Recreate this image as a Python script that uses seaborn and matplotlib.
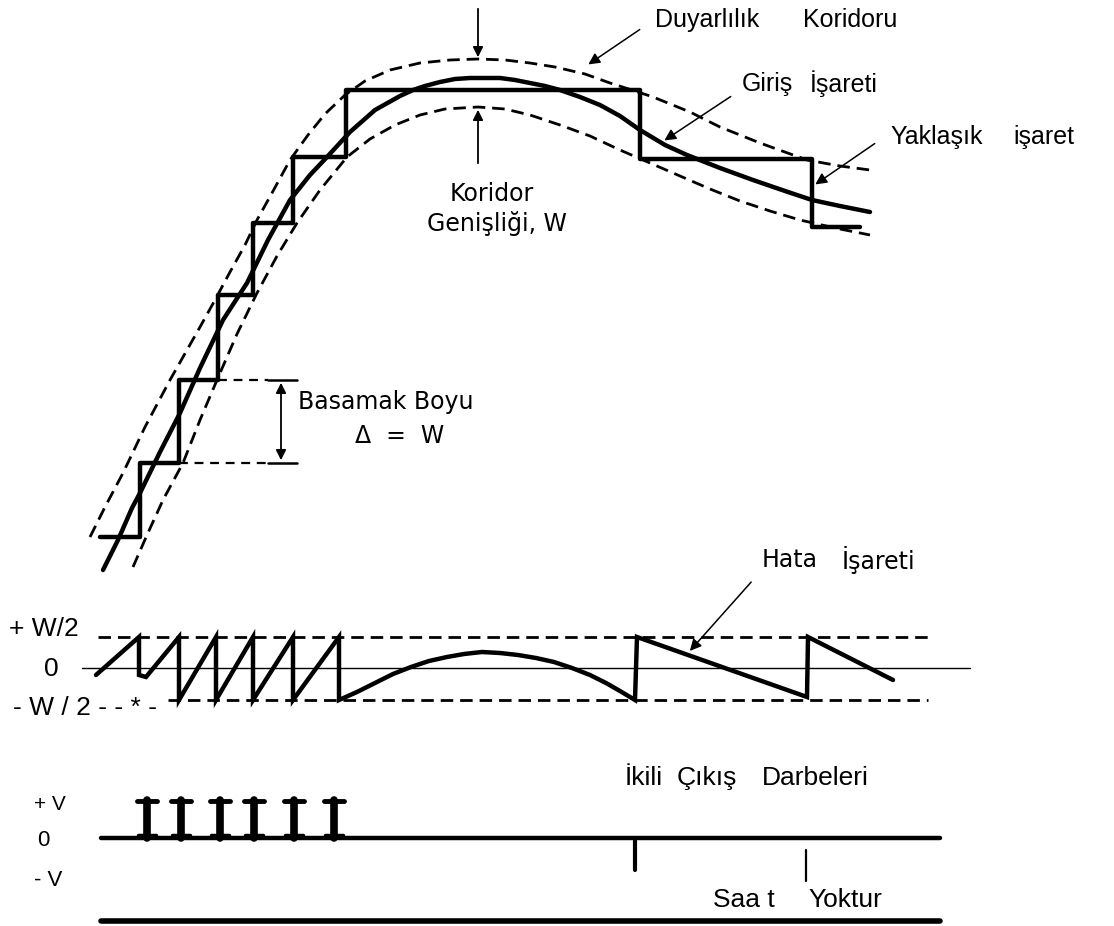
import numpy as np
import pandas as pd
import seaborn as sns
import matplotlib.pyplot as plt

sns.set_theme(style="white")
plt.rcParams['font.family'] = ['Liberation Sans', 'DejaVu Sans']
plt.rcParams['text.color'] = 'black'

# values (pixel units, y grows downward)
# input signal and sensitivity corridor
input_x = [103, 118, 132, 140, 160, 180, 200, 223, 247, 268, 290, 310, 327, 350, 375, 400, 413,
           425, 440, 455, 470, 485, 500, 515, 530, 545, 560, 580, 600, 620, 640, 665, 687,
           720, 753, 785, 812, 840, 870]
input_y = [570, 540, 508, 493, 452, 413, 368, 320, 283, 240, 200, 175, 157, 132, 110, 96, 90,
           86, 82, 79, 78, 78, 78, 80, 83, 86, 90, 97, 105, 116, 130, 145, 155,
           168, 180, 191, 200, 206, 212]
upper_x = [90, 105, 123, 145, 170, 200, 215, 230, 245, 257, 272, 290, 308, 325, 345, 365, 390,
           420, 450, 478, 505, 530, 555, 585, 610, 635, 653, 690, 720, 760, 807, 840, 870]
upper_y = [537, 507, 473, 427, 380, 327, 300, 272, 245, 220, 193, 160, 135, 114, 95, 81, 70,
           63, 60, 59, 60, 63, 67, 74, 83, 91, 97, 112, 127, 143, 160, 166, 170]
lower_x = [133, 147, 163, 183, 200, 217, 237, 257, 277, 297, 320, 347, 370, 395, 420, 445, 478,
           505, 530, 560, 590, 620, 650, 680, 710, 740, 770, 800, 835, 870]
lower_y = [567, 535, 500, 463, 420, 380, 334, 293, 256, 223, 190, 157, 139, 125, 115, 109, 107,
           109, 115, 125, 136, 150, 163, 176, 189, 201, 211, 220, 228, 235]

# approximated (staircase) signal
step_edges = [100, 140, 179, 218, 253, 293, 346, 640, 812, 860]
step_levels = [537, 463, 380, 295, 223, 157, 90, 159, 227]

# error signal
err_x = [96, 139, 139, np.nan, 146, 179, 179, 216, 216, 253, 253, 293, 293, 339, 339,
         357, 375, 393, 411, 429, 447, 464, 482, 500, 518, 536, 554, 572, 590, 606, 620, 635,
         637, 807, 808, 893]
err_y = [675, 637, 675, np.nan, 677, 637, 700, 637, 700, 637, 700, 637, 700, 637, 700,
         692, 683, 674, 667, 661, 657, 654, 652, 653, 655, 658, 662, 668, 675, 683, 691, 700,
         637, 697, 637, 680]
err_levels = {'+W/2': 637, '0': 668, '-W/2': 700}

# binary output pulses
pos_pulses = [147, 181, 220, 254, 294, 334]
neg_pulses = [635]
missing_clock = [806]
out_levels = {'+V': 800, '0': 838, '-V': 878}

fig = plt.figure(figsize=(11.14, 9.26), dpi=100)
ax = fig.add_axes([0, 0, 1, 1])
ax.set_xlim(0, 1114)
ax.set_ylim(926, 0)
ax.axis('off')

k = dict(color='black', estimator=None, sort=False, legend=False, ax=ax)
stencil = 'DejaVu Sans'

# corridor (dashed)
for xs, ys in [(upper_x, upper_y), (lower_x, lower_y)]:
    sns.lineplot(x=xs, y=ys, lw=2.0, **k)
    ax.lines[-1].set_dashes((4.5, 2.5))

# input signal
sns.lineplot(x=input_x, y=input_y, lw=3.2, solid_capstyle='round', solid_joinstyle='round', **k)

# staircase
sns.lineplot(x=step_edges, y=step_levels + [step_levels[-1]], lw=3.2, drawstyle='steps-post', **k)

# step size bracket
for lev, x0 in [(step_levels[2], step_edges[3]), (step_levels[1], step_edges[2])]:
    ax.plot([x0, 268], [lev, lev], color='black', lw=1.6, dashes=(4, 3))
    ax.plot([268, 297], [lev, lev], color='black', lw=1.8)
ax.annotate('', xy=(281, step_levels[2]), xytext=(281, step_levels[1]),
            arrowprops=dict(arrowstyle='<|-|>', color='black', lw=1.3, mutation_scale=15))
ax.text(298, 402, 'Basamak Boyu', fontsize=17, family=stencil, va='center')
ax.text(400, 436, 'Δ  =  W', fontsize=17, family=stencil, va='center', ha='center')

# corridor width arrows
ax.annotate('', xy=(478, 60), xytext=(478, 6),
            arrowprops=dict(arrowstyle='-|>', color='black', lw=1.3, mutation_scale=15))
ax.annotate('', xy=(478, 107), xytext=(478, 166),
            arrowprops=dict(arrowstyle='-|>', color='black', lw=1.3, mutation_scale=15))
ax.text(492, 194, 'Koridor', fontsize=17, family=stencil, ha='center', va='center')
ax.text(497, 224, 'Genişliği, W', fontsize=17, family=stencil, ha='center', va='center')

# labels with pointer arrows
arrow = dict(arrowstyle='-|>', color='black', lw=1.1, mutation_scale=17)
ax.text(655, 20, 'Duyarlılık', fontsize=18, va='center')
ax.text(803, 20, 'Koridoru', fontsize=18, va='center')
ax.annotate('', xy=(586, 66), xytext=(642, 28), arrowprops=arrow)
ax.text(742, 84, 'Giriş', fontsize=18, va='center')
ax.text(810, 84, 'İşareti', fontsize=18, va='center')
ax.annotate('', xy=(662, 142), xytext=(733, 95), arrowprops=arrow)
ax.text(890, 137, 'Yaklaşık', fontsize=18, va='center')
ax.text(1013, 137, 'işaret', fontsize=18, va='center')
ax.annotate('', xy=(813, 186), xytext=(877, 142), arrowprops=arrow)

# error signal section
ax.plot([82, 970], [err_levels['0']] * 2, color='black', lw=1.0)
ax.plot([98, 928], [err_levels['+W/2']] * 2, color='black', lw=2.0, dashes=(4.5, 2.5))
ax.plot([168, 928], [err_levels['-W/2']] * 2, color='black', lw=2.0, dashes=(4.5, 2.5))
sns.lineplot(x=err_x, y=err_y, lw=3.2, solid_joinstyle='miter', **k)
ax.text(9, err_levels['+W/2'] - 8, '+ W/2', fontsize=19, va='center')
ax.text(44, err_levels['0'] + 1, '0', fontsize=19, va='center')
ax.text(13, err_levels['-W/2'] + 8, '- W / 2 - - * -', fontsize=19, va='center')
ax.text(762, 560, 'Hata', fontsize=17, family=stencil, va='center')
ax.text(842, 560, 'İşareti', fontsize=17, family=stencil, va='center')
ax.annotate('', xy=(688, 653), xytext=(753, 580), arrowprops=arrow)

# binary output pulses
z = out_levels['0']
ax.plot([101, 940], [z, z], color='black', lw=3.2)
for px in pos_pulses:
    ax.plot([px, px], [z, out_levels['+V']], color='black', lw=5.5)
    ax.plot([px - 10, px + 10], [out_levels['+V'] + 1, out_levels['+V'] + 1], color='black', lw=3.5)
    ax.plot([px - 9, px + 9], [z - 3, z - 3], color='black', lw=2.5)
for px in neg_pulses:
    ax.plot([px, px], [z, 870], color='black', lw=3.0)
for px in missing_clock:
    ax.plot([px, px], [850, 881], color='black', lw=1.6)
ax.plot([101, 940], [921, 921], color='black', lw=4.0)

ax.text(34, out_levels['+V'] + 4, '+ V', fontsize=15, va='center')
ax.text(37, z + 2, '0', fontsize=16, va='center')
ax.text(34, out_levels['-V'] + 2, '- V', fontsize=16, va='center')
ax.text(625, 778, 'İkili', fontsize=19, va='center')
ax.text(677, 778, 'Çıkış', fontsize=19, va='center')
ax.text(762, 778, 'Darbeleri', fontsize=19, va='center')
ax.text(713, 900, 'Saa t', fontsize=19, va='center')
ax.text(808, 900, 'Yoktur', fontsize=19, va='center')

fig.savefig('out.png', dpi=100)
